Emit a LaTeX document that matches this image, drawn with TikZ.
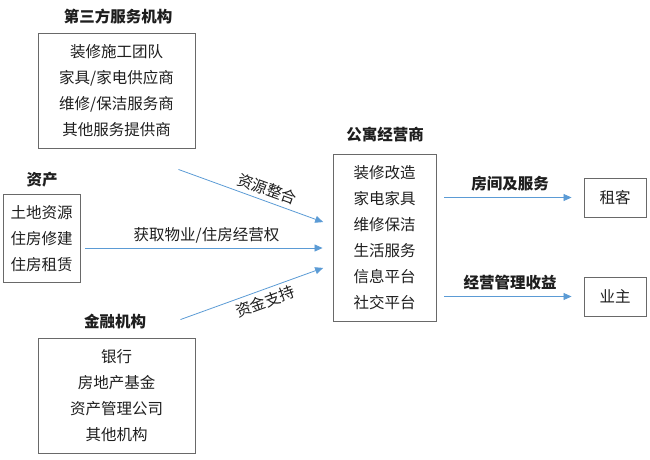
\documentclass[tikz,border=0pt]{standalone}
\usepackage{fontspec}
\setmainfont{Noto Sans CJK SC}
\usetikzlibrary{arrows.meta}
\definecolor{flowblue}{RGB}{91,155,213}
\definecolor{boxgray}{RGB}{105,105,105}
\definecolor{inkgray}{RGB}{30,30,30}
\begin{document}
\begin{tikzpicture}[x=1pt, y=-1pt, text=inkgray,
    font=\fontsize{15.5}{26}\selectfont,
    box/.style={rectangle, draw=boxgray, line width=0.9pt, align=center, inner sep=0pt},
    title/.style={font=\fontsize{15.5}{18}\selectfont\bfseries},
    flow/.style={draw=flowblue, line width=0.8pt, -{Triangle[length=8pt,width=7pt]}, shorten >=10pt}]
    \useasboundingbox (0,0) rectangle (650,459);

    % Nodes
    \node (third) [box, minimum width=157pt, minimum height=115pt] at (116.5,90.5) {装修施工团队\\家具/家电供应商\\维修/保洁服务商\\其他服务提供商};
    \node (thirdtitle) [title] at (118,17) {第三方服务机构};
    \node (assets) [box, minimum width=77pt, minimum height=88pt] at (41.5,238.5) {土地资源\\住房修建\\住房租赁};
    \node (assetstitle) [title] at (42,180) {资产};
    \node (fin) [box, minimum width=157pt, minimum height=115pt] at (116.5,395.5) {银行\\房地产基金\\资产管理公司\\其他机构};
    \node (fintitle) [title] at (115,322) {金融机构};
    \node (op) [box, minimum width=103pt, minimum height=167pt] at (384.5,237.5) {装修改造\\家电家具\\维修保洁\\生活服务\\信息平台\\社交平台};
    \node (optitle) [title] at (385,135) {公寓经营商};
    \node (tenant) [box, minimum width=62pt, minimum height=39pt] at (615,197.5) {租客};
    \node (owner) [box, minimum width=62pt, minimum height=39pt] at (615,296.5) {业主};

    % Arrows
    \coordinate (res) at ([xshift=-17pt,yshift=-21pt]third.south east);
    \coordinate (fund) at ([xshift=-15pt,yshift=18pt]fin.north east);
    \draw[flow] (res) -- ([yshift=12pt]op.west) node[pos=0.55, above=1pt, sloped] {资源整合};
    \draw[flow, shorten <=5pt] ([yshift=-9.5pt]assets.east) -- ([yshift=-10.5pt]op.west) node[midway, above=1pt] {获取物业/住房经营权};
    \draw[flow] (fund) -- ([yshift=-27pt]op.west) node[pos=0.53, below=1pt, sloped] {资金支持};
    \draw[flow, shorten <=8pt, shorten >=12pt] (tenant.west -| op.east) -- (tenant.west) node[midway, above=3pt, title] {房间及服务};
    \draw[flow, shorten <=8pt, shorten >=12pt] (owner.west -| op.east) -- (owner.west) node[midway, above=3pt, title] {经营管理收益};
  \end{tikzpicture}
\end{document}
